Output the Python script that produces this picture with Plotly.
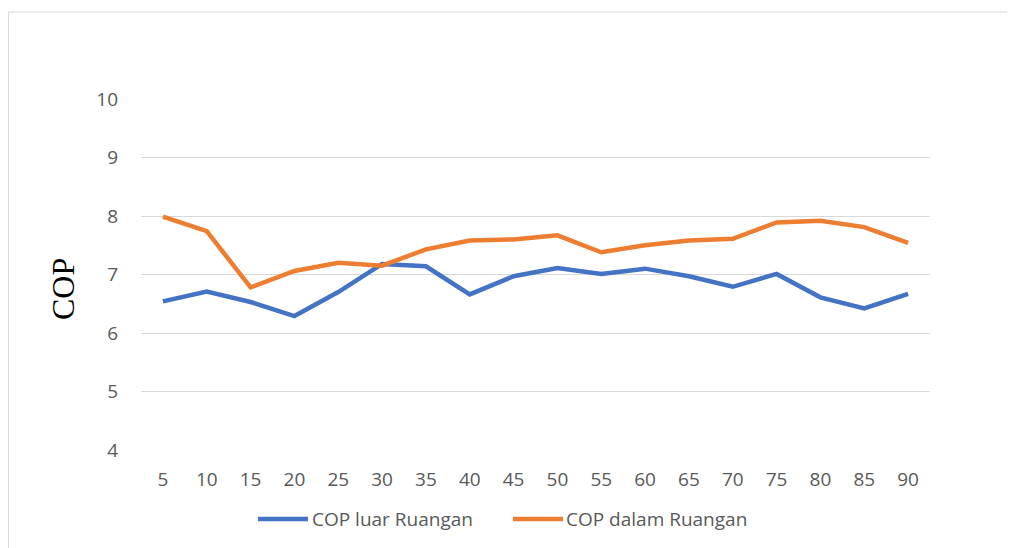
import plotly.graph_objects as go

categories = ["5", "10", "15", "20", "25", "30", "35", "40", "45", "50",
              "55", "60", "65", "70", "75", "80", "85", "90"]
cop_luar = [6.54, 6.71, 6.53, 6.29, 6.70, 7.18, 7.14, 6.66, 6.97, 7.11,
            7.01, 7.10, 6.97, 6.79, 7.01, 6.61, 6.42, 6.67]
cop_dalam = [7.99, 7.74, 6.78, 7.06, 7.20, 7.15, 7.43, 7.58, 7.60, 7.67,
             7.38, 7.50, 7.58, 7.61, 7.89, 7.92, 7.81, 7.54]
y_ticks = [4, 5, 6, 7, 8, 9, 10]
series_names = ["COP luar Ruangan", "COP dalam Ruangan"]
series_colors = ["#4472C4", "#ED7D31"]

fig = go.Figure()
for name, vals, col in zip(series_names, [cop_luar, cop_dalam], series_colors):
    fig.add_trace(go.Scatter(x=categories, y=vals, mode="lines", name=name,
                             line=dict(color=col, width=4.5), showlegend=False))

font_fam = "Open Sans, Liberation Sans, sans-serif"
tick_font = dict(family=font_fam, size=19, color="#595959")

# page has an 8px body margin; figure placed at (8,8)
OFF = 8
L, T, R, B = 141 - OFF, 99 - OFF, 85, 98
W, H = 1015 - OFF, 548 - OFF
PW, PH = 930 - 141, 450 - 99


def px(x):
    return (x - 141) / PW


def py(y):
    return (450 - y) / PH


fig.update_layout(
    width=W, height=H,
    margin=dict(l=L, r=R, t=T, b=B),
    paper_bgcolor="white", plot_bgcolor="white",
    xaxis=dict(type="category", range=[-0.5, 17.5], showgrid=False, zeroline=False,
               showline=False, ticks="", tickfont=tick_font, ticklabelstandoff=16),
    yaxis=dict(range=[4, 10], tickvals=y_ticks, showgrid=True, gridcolor="#D9D9D9",
               gridwidth=1, zeroline=False, showline=False, ticks="",
               tickfont=tick_font, ticklabelstandoff=22),
)

# y-axis title
fig.add_annotation(text="COP", xref="paper", yref="paper", x=px(63), y=py(289),
                   showarrow=False, textangle=-90, xanchor="center", yanchor="middle",
                   font=dict(family="Liberation Serif, Times New Roman, serif", size=32,
                             color="black"))

# custom legend
leg_y = py(519)
for (x0, x1, tx), name, col in zip([(258, 308, 310), (513, 563, 564)], series_names,
                                   series_colors):
    fig.add_shape(type="line", xref="paper", yref="paper", x0=px(x0), x1=px(x1),
                  y0=leg_y, y1=leg_y, line=dict(color=col, width=4.5))
    fig.add_annotation(text=name, xref="paper", yref="paper", x=px(tx), y=leg_y,
                       showarrow=False, xanchor="left", yanchor="middle",
                       font=dict(family=font_fam, size=19, color="#595959"))

# chart frame border (partially visible)
bx = px(OFF + 0.5)
by = py(12)
fig.add_shape(type="line", xref="paper", yref="paper", x0=bx, x1=1.3, y0=by, y1=by,
              line=dict(color="#D9D9D9", width=1))
fig.add_shape(type="line", xref="paper", yref="paper", x0=bx, x1=bx, y0=by, y1=-0.5,
              line=dict(color="#D9D9D9", width=1))

fig.write_html("out.html")
